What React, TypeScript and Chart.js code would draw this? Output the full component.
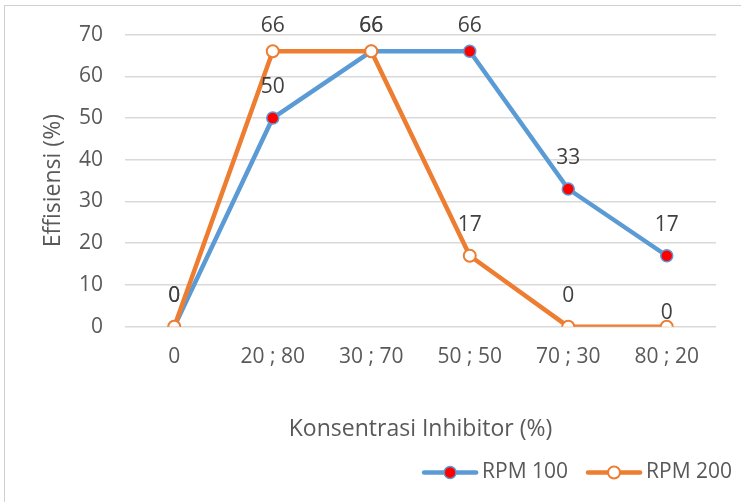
import { useEffect, useRef } from "react";
import { Chart, registerables } from "chart.js";

Chart.register(...registerables);

// Mixing ratios on the x axis and efficiency values (%) per stirring speed
const categories = ["0", "20 ; 80", "30 ; 70", "50 ; 50", "70 ; 30", "80 ; 20"];
const rpm100 = [0, 50, 66, 66, 33, 17];
const rpm200 = [0, 66, 66, 17, 0, 0];
const yTicks = [0, 10, 20, 30, 40, 50, 60, 70];

const FONT = "'Open Sans', 'Noto Sans', sans-serif";
const AXIS_TEXT = "#595959";
const LABEL_TEXT = "#404040";
const GRID = "#D9D9D9";
const TICK_SIZE = 21;
const TITLE_SIZE = 23;

// Value labels drawn above each point
const valueLabels = {
  id: "valueLabels",
  afterDatasetsDraw(chart: any) {
    const { ctx, chartArea } = chart;
    ctx.save();
    ctx.font = `${TICK_SIZE}px ${FONT}`;
    ctx.fillStyle = LABEL_TEXT;
    ctx.textAlign = "center";
    ctx.textBaseline = "middle";
    chart.data.datasets.forEach((ds: any, i: number) => {
      const meta = chart.getDatasetMeta(i);
      meta.data.forEach((pt: any, j: number) => {
        const lift = ds.labelLift?.[j] ?? 31;
        const y = Math.max(pt.y - lift, chartArea.top - 8.5);
        ctx.fillText(String(ds.data[j]), pt.x, y);
      });
    });
    ctx.restore();
  },
};

// Line-and-marker legend in the bottom right corner
const lineLegend = {
  id: "lineLegend",
  afterDraw(chart: any) {
    const { ctx, width, height } = chart;
    const datasets = chart.data.datasets;
    const lineLen = 56;
    const gap = 4;
    const itemGap = 18;
    const y = height - 29.5;
    ctx.save();
    ctx.font = `${TICK_SIZE}px ${FONT}`;
    ctx.textBaseline = "middle";
    ctx.textAlign = "left";
    const widths = datasets.map((ds: any) => lineLen + gap + ctx.measureText(ds.label).width);
    const total = widths.reduce((a: number, b: number) => a + b, 0) + itemGap * (datasets.length - 1);
    let x = width - 9 - total;
    datasets.forEach((ds: any, i: number) => {
      ctx.strokeStyle = ds.borderColor;
      ctx.lineWidth = ds.borderWidth;
      ctx.lineCap = "round";
      ctx.beginPath();
      ctx.moveTo(x + 2, y);
      ctx.lineTo(x + lineLen - 2, y);
      ctx.stroke();
      ctx.beginPath();
      ctx.arc(x + lineLen / 2, y, ds.pointRadius, 0, Math.PI * 2);
      ctx.fillStyle = ds.pointBackgroundColor;
      ctx.fill();
      ctx.lineWidth = ds.pointBorderWidth;
      ctx.strokeStyle = ds.pointBorderColor;
      ctx.stroke();
      ctx.fillStyle = AXIS_TEXT;
      ctx.fillText(ds.label, x + lineLen + gap, y);
      x += widths[i] + itemGap;
    });
    ctx.restore();
  },
};

// White panel with a thin frame
const panel = {
  id: "panel",
  beforeDraw(chart: any) {
    const { ctx, width, height } = chart;
    ctx.save();
    ctx.fillStyle = "#FFFFFF";
    ctx.fillRect(0, 0, width, height);
    ctx.strokeStyle = "#D0D0D0";
    ctx.lineWidth = 1;
    ctx.strokeRect(4.5, 5.5, width + 20, height + 20);
    ctx.restore();
  },
};

export default function App() {
  const canvasRef = useRef<HTMLCanvasElement | null>(null);

  useEffect(() => {
    document.body.style.margin = "0";
    const canvas = canvasRef.current;
    if (!canvas) return;
    const chart = new Chart(canvas, {
      type: "line",
      data: {
        labels: categories,
        datasets: [
          {
            label: "RPM 100",
            data: rpm100,
            borderColor: "#5B9BD5",
            borderWidth: 4.5,
            borderCapStyle: "round",
            borderJoinStyle: "round",
            pointRadius: 6,
            pointHoverRadius: 6,
            pointBackgroundColor: "#FF0000",
            pointBorderColor: "#5B9BD5",
            pointBorderWidth: 1.5,
            tension: 0,
            order: 2,
          } as any,
          {
            label: "RPM 200",
            data: rpm200,
            borderColor: "#ED7D31",
            borderWidth: 4.5,
            borderCapStyle: "round",
            borderJoinStyle: "round",
            pointRadius: 6,
            pointHoverRadius: 6,
            pointBackgroundColor: "#FFFFFF",
            pointBorderColor: "#ED7D31",
            pointBorderWidth: 2,
            tension: 0,
            order: 1,
            labelLift: [31, 31, 31, 31, 31, 14],
          } as any,
        ],
      },
      options: {
        responsive: false,
        animation: false,
        layout: { padding: { left: 0, top: 34, right: 25, bottom: 50 } },
        plugins: {
          legend: { display: false },
          tooltip: { enabled: false },
        },
        scales: {
          x: {
            offset: true,
            grid: { display: false, drawTicks: false },
            border: { display: false },
            ticks: {
              color: AXIS_TEXT,
              font: { family: FONT, size: TICK_SIZE },
              padding: 18,
              maxRotation: 0,
              autoSkip: false,
            },
            title: {
              display: true,
              text: "Konsentrasi Inhibitor (%)",
              color: AXIS_TEXT,
              font: { family: FONT, size: TITLE_SIZE },
              padding: { top: 0, bottom: 9 },
            },
            afterFit(scale: any) {
              scale.height = 125.3;
            },
          },
          y: {
            min: yTicks[0],
            max: yTicks[yTicks.length - 1],
            grid: { color: GRID, lineWidth: 1.5, drawTicks: false },
            border: { display: false },
            ticks: {
              stepSize: 10,
              color: AXIS_TEXT,
              font: { family: FONT, size: TICK_SIZE },
              padding: 22,
            },
            title: {
              display: true,
              text: "Effisiensi (%)",
              color: AXIS_TEXT,
              font: { family: FONT, size: TITLE_SIZE },
              padding: { top: 40, bottom: 0 },
            },
            afterFit(scale: any) {
              scale.width = 125;
            },
          },
        },
      },
      plugins: [panel, valueLabels, lineLegend],
    });
    return () => chart.destroy();
  }, []);

  return <canvas ref={canvasRef} width={741} height={502} style={{ display: "block" }} />;
}
